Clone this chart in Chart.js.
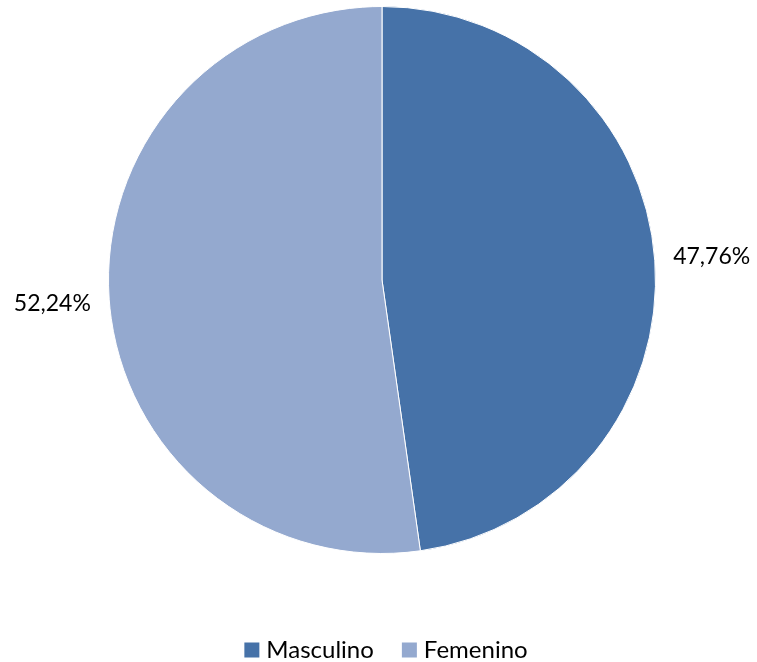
<!DOCTYPE html>
<html>
<head>
<meta charset="utf-8">
<script src="https://cdn.jsdelivr.net/npm/chart.js@4"></script>
<style>
  html, body { margin: 0; padding: 0; background: #fff; }
  canvas { display: block; }
</style>
</head>
<body>
<canvas id="chartSexo" width="757" height="662"></canvas>
<script>
const categorias = ['Masculino', 'Femenino'];
const porcentajes = [47.76, 52.24];
const etiquetas = ['47,76%', '52,24%'];
const colores = ['#4672A8', '#94A9CF'];

const FONT = '23px Lato, "Open Sans", sans-serif';
const FONT_LEYENDA = '24px Lato, "Open Sans", sans-serif';

// etiquetas de porcentaje fuera del pastel
const labelsFuera = {
    id: 'labelsFuera',
    afterDatasetsDraw(chart) {
        const ctx = chart.ctx;
        const meta = chart.getDatasetMeta(0);
        ctx.save();
        ctx.font = FONT;
        ctx.fillStyle = '#000';
        ctx.textAlign = 'center';
        ctx.textBaseline = 'middle';
        meta.data.forEach((arc, i) => {
            const mid = (arc.startAngle + arc.endAngle) / 2;
            const r = arc.outerRadius + 57;
            ctx.fillText(etiquetas[i], arc.x + Math.cos(mid) * r, arc.y + Math.sin(mid) * r);
        });
        ctx.restore();
    }
};

// leyenda abajo, centrada
const leyenda = {
    id: 'leyenda',
    afterDraw(chart) {
        const ctx = chart.ctx;
        ctx.save();
        ctx.font = FONT_LEYENDA;
        const box = 15, gapTxt = 7, gapItem = 28;
        const widths = categorias.map(c => ctx.measureText(c).width);
        const total = widths.reduce((a, w) => a + box + gapTxt + w, 0) + gapItem * (categorias.length - 1);
        let x = 386 - total / 2;
        const y = 650;
        ctx.textBaseline = 'middle';
        categorias.forEach((c, i) => {
            ctx.fillStyle = colores[i];
            ctx.fillRect(x, y - box / 2, box, box);
            x += box + gapTxt;
            ctx.fillStyle = '#000';
            ctx.fillText(c, x, y);
            x += widths[i] + gapItem;
        });
        ctx.restore();
    }
};

new Chart(document.getElementById('chartSexo'), {
    type: 'pie',
    data: {
        labels: categorias,
        datasets: [{
            data: porcentajes,
            backgroundColor: colores,
            borderColor: '#ffffff',
            borderWidth: 1
        }]
    },
    options: {
        responsive: false,
        animation: false,
        layout: { padding: { top: 6, left: 7, right: 0, bottom: 108 } },
        plugins: {
            legend: { display: false },
            tooltip: { enabled: false }
        }
    },
    plugins: [labelsFuera, leyenda]
});
</script>
</body>
</html>
